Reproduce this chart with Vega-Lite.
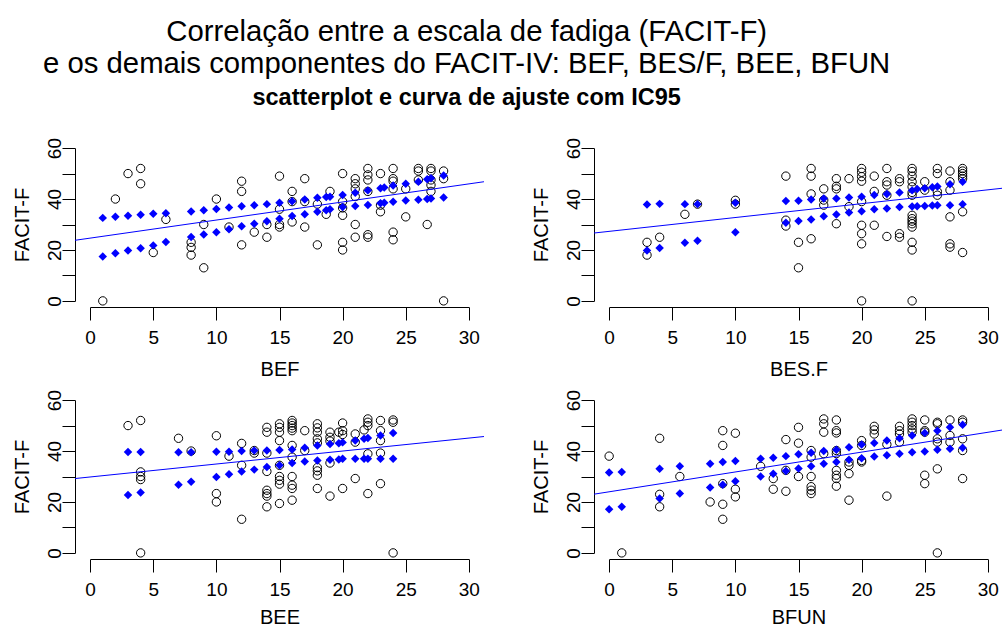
{
"$schema": "https://vega.github.io/schema/vega-lite/v6.json",
"background": "white",
"padding": {"left": 12, "top": 17, "right": 0, "bottom": 0},
"title": {"text": ["Correlação entre a escala de fadiga (FACIT-F)", "e os demais componentes do FACIT-IV: BEF, BES/F, BEE, BFUN"], "subtitle": "scatterplot e curva de ajuste com IC95", "font": "Liberation Sans", "fontSize": 29.3, "fontWeight": "normal", "lineHeight": 32, "color": "black", "subtitleFont": "Liberation Sans", "subtitleFontSize": 23.5, "subtitleFontWeight": "bold", "subtitleColor": "black", "subtitlePadding": 7, "anchor": "middle", "dx": -41, "offset": 28},
"datasets": {
"obs": [
{"p":"BEF","x":1,"y":0},{"p":"BEF","x":2,"y":40},{"p":"BEF","x":3,"y":50},{"p":"BEF","x":4,"y":52},{"p":"BEF","x":4,"y":46},{"p":"BEF","x":5,"y":19},{"p":"BEF","x":6,"y":32},{"p":"BEF","x":8,"y":23},{"p":"BEF","x":8,"y":21},{"p":"BEF","x":8,"y":18},{"p":"BEF","x":9,"y":13},{"p":"BEF","x":9,"y":30},{"p":"BEF","x":10,"y":40},{"p":"BEF","x":11,"y":29},{"p":"BEF","x":12,"y":47},{"p":"BEF","x":12,"y":43},{"p":"BEF","x":12,"y":22},{"p":"BEF","x":13,"y":27},{"p":"BEF","x":14,"y":25},{"p":"BEF","x":14,"y":30},{"p":"BEF","x":15,"y":49},{"p":"BEF","x":15,"y":36},{"p":"BEF","x":15,"y":30},{"p":"BEF","x":15,"y":29},{"p":"BEF","x":16,"y":43},{"p":"BEF","x":16,"y":39},{"p":"BEF","x":16,"y":31},{"p":"BEF","x":17,"y":48},{"p":"BEF","x":17,"y":39},{"p":"BEF","x":17,"y":29},{"p":"BEF","x":18,"y":38},{"p":"BEF","x":18,"y":22},{"p":"BEF","x":18.7,"y":34},{"p":"BEF","x":19,"y":43},{"p":"BEF","x":20,"y":50},{"p":"BEF","x":20,"y":39},{"p":"BEF","x":20,"y":36.5},{"p":"BEF","x":20,"y":33.6},{"p":"BEF","x":20,"y":23},{"p":"BEF","x":20,"y":20},{"p":"BEF","x":21,"y":48},{"p":"BEF","x":21,"y":46},{"p":"BEF","x":21,"y":44},{"p":"BEF","x":21,"y":41},{"p":"BEF","x":21,"y":30},{"p":"BEF","x":21,"y":25},{"p":"BEF","x":22,"y":52},{"p":"BEF","x":22,"y":49.5},{"p":"BEF","x":22,"y":47.5},{"p":"BEF","x":22,"y":43},{"p":"BEF","x":22,"y":26},{"p":"BEF","x":22,"y":25},{"p":"BEF","x":23,"y":50},{"p":"BEF","x":23,"y":37.6},{"p":"BEF","x":23,"y":35},{"p":"BEF","x":24,"y":52},{"p":"BEF","x":24,"y":48},{"p":"BEF","x":24,"y":47},{"p":"BEF","x":24,"y":44},{"p":"BEF","x":24,"y":27},{"p":"BEF","x":24,"y":24},{"p":"BEF","x":25,"y":44},{"p":"BEF","x":25,"y":33},{"p":"BEF","x":26,"y":52},{"p":"BEF","x":26,"y":51},{"p":"BEF","x":26,"y":47.5},{"p":"BEF","x":26.7,"y":30},{"p":"BEF","x":27,"y":52},{"p":"BEF","x":27,"y":51},{"p":"BEF","x":27,"y":47.5},{"p":"BEF","x":27,"y":45.5},{"p":"BEF","x":27,"y":43},{"p":"BEF","x":28,"y":51},{"p":"BEF","x":28,"y":48},{"p":"BEF","x":28,"y":0},
{"p":"BESF","x":3,"y":23},{"p":"BESF","x":3,"y":18},{"p":"BESF","x":4,"y":25},{"p":"BESF","x":6,"y":34},{"p":"BESF","x":7,"y":38},{"p":"BESF","x":10,"y":39.5},{"p":"BESF","x":10,"y":38},{"p":"BESF","x":14,"y":49},{"p":"BESF","x":14,"y":31.7},{"p":"BESF","x":14,"y":29.4},{"p":"BESF","x":15,"y":23},{"p":"BESF","x":15,"y":13},{"p":"BESF","x":16,"y":52},{"p":"BESF","x":16,"y":49},{"p":"BESF","x":16,"y":42},{"p":"BESF","x":16,"y":24.4},{"p":"BESF","x":17,"y":44},{"p":"BESF","x":17,"y":39.6},{"p":"BESF","x":17,"y":37.6},{"p":"BESF","x":18,"y":48},{"p":"BESF","x":18,"y":45},{"p":"BESF","x":18,"y":44},{"p":"BESF","x":18,"y":30.3},{"p":"BESF","x":19,"y":48},{"p":"BESF","x":19,"y":37},{"p":"BESF","x":20,"y":52},{"p":"BESF","x":20,"y":50.5},{"p":"BESF","x":20,"y":48.8},{"p":"BESF","x":20,"y":47},{"p":"BESF","x":20,"y":39},{"p":"BESF","x":20,"y":29.7},{"p":"BESF","x":20,"y":26.4},{"p":"BESF","x":20,"y":22.4},{"p":"BESF","x":20,"y":0},{"p":"BESF","x":21,"y":49},{"p":"BESF","x":21,"y":43},{"p":"BESF","x":21,"y":29.7},{"p":"BESF","x":22,"y":52},{"p":"BESF","x":22,"y":46.8},{"p":"BESF","x":22,"y":45.5},{"p":"BESF","x":22,"y":41.5},{"p":"BESF","x":22,"y":25.3},{"p":"BESF","x":23,"y":48},{"p":"BESF","x":23,"y":46.8},{"p":"BESF","x":23,"y":26.4},{"p":"BESF","x":23,"y":25},{"p":"BESF","x":24,"y":52},{"p":"BESF","x":24,"y":50.8},{"p":"BESF","x":24,"y":49},{"p":"BESF","x":24,"y":46.8},{"p":"BESF","x":24,"y":44.8},{"p":"BESF","x":24,"y":42.6},{"p":"BESF","x":24,"y":41.5},{"p":"BESF","x":24,"y":33.6},{"p":"BESF","x":24,"y":32.3},{"p":"BESF","x":24,"y":31.3},{"p":"BESF","x":24,"y":30.3},{"p":"BESF","x":24,"y":29},{"p":"BESF","x":24,"y":23},{"p":"BESF","x":24,"y":20},{"p":"BESF","x":24,"y":0},{"p":"BESF","x":25,"y":46.8},{"p":"BESF","x":25,"y":43.5},{"p":"BESF","x":26,"y":52},{"p":"BESF","x":26,"y":50},{"p":"BESF","x":26,"y":42.9},{"p":"BESF","x":26,"y":41.5},{"p":"BESF","x":27,"y":51},{"p":"BESF","x":27,"y":46.8},{"p":"BESF","x":27,"y":43.5},{"p":"BESF","x":27,"y":33},{"p":"BESF","x":27,"y":22.4},{"p":"BESF","x":27,"y":21.1},{"p":"BESF","x":28,"y":52},{"p":"BESF","x":28,"y":51},{"p":"BESF","x":28,"y":50},{"p":"BESF","x":28,"y":49},{"p":"BESF","x":28,"y":48},{"p":"BESF","x":28,"y":35},{"p":"BESF","x":28,"y":19},
{"p":"BEE","x":3,"y":50},{"p":"BEE","x":4,"y":52},{"p":"BEE","x":4,"y":31.8},{"p":"BEE","x":4,"y":30},{"p":"BEE","x":4,"y":28.8},{"p":"BEE","x":4,"y":0},{"p":"BEE","x":7,"y":45},{"p":"BEE","x":8,"y":40},{"p":"BEE","x":10,"y":46},{"p":"BEE","x":10,"y":23.3},{"p":"BEE","x":10,"y":20},{"p":"BEE","x":11,"y":38},{"p":"BEE","x":12,"y":43},{"p":"BEE","x":12,"y":34.4},{"p":"BEE","x":12,"y":13.2},{"p":"BEE","x":13,"y":40.2},{"p":"BEE","x":13,"y":39.2},{"p":"BEE","x":14,"y":49.3},{"p":"BEE","x":14,"y":47.4},{"p":"BEE","x":14,"y":39.2},{"p":"BEE","x":14,"y":32},{"p":"BEE","x":14,"y":24.6},{"p":"BEE","x":14,"y":23.3},{"p":"BEE","x":14,"y":22.3},{"p":"BEE","x":14,"y":18.1},{"p":"BEE","x":15,"y":50.7},{"p":"BEE","x":15,"y":49.3},{"p":"BEE","x":15,"y":47.4},{"p":"BEE","x":15,"y":44.1},{"p":"BEE","x":15,"y":34.4},{"p":"BEE","x":15,"y":30},{"p":"BEE","x":15,"y":28.5},{"p":"BEE","x":15,"y":27},{"p":"BEE","x":15,"y":19.4},{"p":"BEE","x":16,"y":52},{"p":"BEE","x":16,"y":51},{"p":"BEE","x":16,"y":50},{"p":"BEE","x":16,"y":49},{"p":"BEE","x":16,"y":48},{"p":"BEE","x":16,"y":42.2},{"p":"BEE","x":16,"y":37.6},{"p":"BEE","x":16,"y":30},{"p":"BEE","x":16,"y":26.6},{"p":"BEE","x":16,"y":25.3},{"p":"BEE","x":16,"y":20.7},{"p":"BEE","x":17,"y":48},{"p":"BEE","x":17,"y":40.2},{"p":"BEE","x":18,"y":50.7},{"p":"BEE","x":18,"y":49.1},{"p":"BEE","x":18,"y":47.4},{"p":"BEE","x":18,"y":44.8},{"p":"BEE","x":18,"y":43.2},{"p":"BEE","x":18,"y":33.5},{"p":"BEE","x":18,"y":32.2},{"p":"BEE","x":18,"y":30.5},{"p":"BEE","x":18,"y":25.3},{"p":"BEE","x":19,"y":47.4},{"p":"BEE","x":19,"y":45.4},{"p":"BEE","x":19,"y":43.9},{"p":"BEE","x":19,"y":35.3},{"p":"BEE","x":19,"y":22.3},{"p":"BEE","x":19.7,"y":47.4},{"p":"BEE","x":20,"y":51},{"p":"BEE","x":20,"y":48},{"p":"BEE","x":20,"y":46.5},{"p":"BEE","x":20,"y":25.3},{"p":"BEE","x":21,"y":46.7},{"p":"BEE","x":21,"y":43.5},{"p":"BEE","x":21,"y":29.2},{"p":"BEE","x":21.7,"y":48.3},{"p":"BEE","x":22,"y":52.6},{"p":"BEE","x":22,"y":51.3},{"p":"BEE","x":22,"y":50},{"p":"BEE","x":22,"y":38.9},{"p":"BEE","x":22,"y":23.3},{"p":"BEE","x":23,"y":52},{"p":"BEE","x":23,"y":48},{"p":"BEE","x":23,"y":44.1},{"p":"BEE","x":23,"y":39.2},{"p":"BEE","x":23,"y":27.2},{"p":"BEE","x":24,"y":52.2},{"p":"BEE","x":24,"y":51.3},{"p":"BEE","x":24,"y":0},
{"p":"BFUN","x":0,"y":38},{"p":"BFUN","x":1,"y":0},{"p":"BFUN","x":4,"y":45},{"p":"BFUN","x":4,"y":23},{"p":"BFUN","x":4,"y":18.1},{"p":"BFUN","x":5.6,"y":30},{"p":"BFUN","x":8,"y":20},{"p":"BFUN","x":9,"y":48},{"p":"BFUN","x":9,"y":42.2},{"p":"BFUN","x":9,"y":27.2},{"p":"BFUN","x":9,"y":19.1},{"p":"BFUN","x":9,"y":13.2},{"p":"BFUN","x":10,"y":47},{"p":"BFUN","x":10,"y":25},{"p":"BFUN","x":10,"y":22},{"p":"BFUN","x":12,"y":34},{"p":"BFUN","x":13,"y":29.2},{"p":"BFUN","x":13,"y":25},{"p":"BFUN","x":14,"y":44.5},{"p":"BFUN","x":14,"y":32.4},{"p":"BFUN","x":14,"y":24.2},{"p":"BFUN","x":15,"y":49.3},{"p":"BFUN","x":15,"y":43.1},{"p":"BFUN","x":15,"y":30},{"p":"BFUN","x":16,"y":40.2},{"p":"BFUN","x":16,"y":37.6},{"p":"BFUN","x":16,"y":30},{"p":"BFUN","x":16,"y":26},{"p":"BFUN","x":16,"y":24.6},{"p":"BFUN","x":16,"y":23.3},{"p":"BFUN","x":17,"y":52.6},{"p":"BFUN","x":17,"y":50.7},{"p":"BFUN","x":17,"y":47.4},{"p":"BFUN","x":17,"y":39},{"p":"BFUN","x":18,"y":52.2},{"p":"BFUN","x":18,"y":48},{"p":"BFUN","x":18,"y":47.1},{"p":"BFUN","x":18,"y":40.2},{"p":"BFUN","x":18,"y":39},{"p":"BFUN","x":18,"y":32.4},{"p":"BFUN","x":18,"y":30.5},{"p":"BFUN","x":18,"y":29.2},{"p":"BFUN","x":18,"y":26.2},{"p":"BFUN","x":19,"y":35.7},{"p":"BFUN","x":19,"y":34.4},{"p":"BFUN","x":19,"y":31.1},{"p":"BFUN","x":19,"y":20.7},{"p":"BFUN","x":20,"y":44.1},{"p":"BFUN","x":20,"y":42.2},{"p":"BFUN","x":20,"y":36.3},{"p":"BFUN","x":20,"y":35.7},{"p":"BFUN","x":21,"y":49.7},{"p":"BFUN","x":21,"y":48.3},{"p":"BFUN","x":21,"y":46.7},{"p":"BFUN","x":22,"y":42.6},{"p":"BFUN","x":22,"y":22.3},{"p":"BFUN","x":23,"y":49.7},{"p":"BFUN","x":23,"y":48},{"p":"BFUN","x":23,"y":46.7},{"p":"BFUN","x":23,"y":43.5},{"p":"BFUN","x":24,"y":52.6},{"p":"BFUN","x":24,"y":51.3},{"p":"BFUN","x":24,"y":50},{"p":"BFUN","x":24,"y":48.7},{"p":"BFUN","x":24,"y":47.4},{"p":"BFUN","x":25,"y":52.2},{"p":"BFUN","x":25,"y":48},{"p":"BFUN","x":25,"y":47.4},{"p":"BFUN","x":25,"y":30.5},{"p":"BFUN","x":25,"y":27.2},{"p":"BFUN","x":26,"y":51.3},{"p":"BFUN","x":26,"y":50.7},{"p":"BFUN","x":26,"y":44.8},{"p":"BFUN","x":26,"y":43.5},{"p":"BFUN","x":26,"y":33},{"p":"BFUN","x":26,"y":0},{"p":"BFUN","x":27,"y":52.2},{"p":"BFUN","x":27,"y":46.1},{"p":"BFUN","x":27,"y":43.5},{"p":"BFUN","x":28,"y":52.2},{"p":"BFUN","x":28,"y":51.3},{"p":"BFUN","x":28,"y":44.8},{"p":"BFUN","x":28,"y":40.2},{"p":"BFUN","x":28,"y":29.2}
],
"ic": [
{"p":"BEF","x":1,"y":32.6},{"p":"BEF","x":1,"y":17.4},{"p":"BEF","x":2,"y":33},{"p":"BEF","x":2,"y":18.7},{"p":"BEF","x":3,"y":33.4},{"p":"BEF","x":3,"y":19.8},{"p":"BEF","x":4,"y":33.8},{"p":"BEF","x":4,"y":20.7},{"p":"BEF","x":5,"y":34.2},{"p":"BEF","x":5,"y":21.8},{"p":"BEF","x":6,"y":34.4},{"p":"BEF","x":6,"y":23.1},{"p":"BEF","x":8,"y":35.1},{"p":"BEF","x":8,"y":25.1},{"p":"BEF","x":9,"y":35.6},{"p":"BEF","x":9,"y":26.1},{"p":"BEF","x":10,"y":36.1},{"p":"BEF","x":10,"y":27},{"p":"BEF","x":11,"y":36.7},{"p":"BEF","x":11,"y":28.1},{"p":"BEF","x":12,"y":37.2},{"p":"BEF","x":12,"y":29.3},{"p":"BEF","x":13,"y":37.6},{"p":"BEF","x":13,"y":30.3},{"p":"BEF","x":14,"y":38},{"p":"BEF","x":14,"y":31.3},{"p":"BEF","x":15,"y":38.5},{"p":"BEF","x":15,"y":32.3},{"p":"BEF","x":16,"y":39.1},{"p":"BEF","x":16,"y":33.3},{"p":"BEF","x":17,"y":39.8},{"p":"BEF","x":17,"y":34},{"p":"BEF","x":18,"y":40.5},{"p":"BEF","x":18,"y":35},{"p":"BEF","x":18.7,"y":40.8},{"p":"BEF","x":18.7,"y":35.6},{"p":"BEF","x":19,"y":40.9},{"p":"BEF","x":19,"y":36},{"p":"BEF","x":20,"y":41.6},{"p":"BEF","x":20,"y":36.9},{"p":"BEF","x":21,"y":42.5},{"p":"BEF","x":21,"y":37.3},{"p":"BEF","x":22,"y":43.4},{"p":"BEF","x":22,"y":37.7},{"p":"BEF","x":23,"y":44.2},{"p":"BEF","x":23,"y":38.3},{"p":"BEF","x":23.3,"y":44.5},{"p":"BEF","x":23.3,"y":38.5},{"p":"BEF","x":24,"y":45.3},{"p":"BEF","x":24,"y":38.9},{"p":"BEF","x":25,"y":46},{"p":"BEF","x":25,"y":39.4},{"p":"BEF","x":26,"y":46.8},{"p":"BEF","x":26,"y":39.7},{"p":"BEF","x":26.7,"y":47.8},{"p":"BEF","x":26.7,"y":40},{"p":"BEF","x":27,"y":48.2},{"p":"BEF","x":27,"y":40.2},{"p":"BEF","x":28,"y":49.2},{"p":"BEF","x":28,"y":40.6},
{"p":"BESF","x":3,"y":37.9},{"p":"BESF","x":3,"y":19.8},{"p":"BESF","x":4,"y":38.1},{"p":"BESF","x":4,"y":20.8},{"p":"BESF","x":6,"y":38},{"p":"BESF","x":6,"y":22.8},{"p":"BESF","x":7,"y":38},{"p":"BESF","x":7,"y":23.6},{"p":"BESF","x":10,"y":38.5},{"p":"BESF","x":10,"y":27},{"p":"BESF","x":14,"y":39.2},{"p":"BESF","x":14,"y":30.7},{"p":"BESF","x":15,"y":39.3},{"p":"BESF","x":15,"y":31.4},{"p":"BESF","x":16,"y":39.8},{"p":"BESF","x":16,"y":32},{"p":"BESF","x":17,"y":40.2},{"p":"BESF","x":17,"y":33.2},{"p":"BESF","x":18,"y":40.2},{"p":"BESF","x":18,"y":33.9},{"p":"BESF","x":19,"y":40.6},{"p":"BESF","x":19,"y":34.7},{"p":"BESF","x":20,"y":40.9},{"p":"BESF","x":20,"y":35.2},{"p":"BESF","x":21,"y":41.6},{"p":"BESF","x":21,"y":36},{"p":"BESF","x":22,"y":42},{"p":"BESF","x":22,"y":36.3},{"p":"BESF","x":23,"y":42.6},{"p":"BESF","x":23,"y":36.9},{"p":"BESF","x":24,"y":43.4},{"p":"BESF","x":24,"y":37.1},{"p":"BESF","x":24.4,"y":43.9},{"p":"BESF","x":24.4,"y":37.2},{"p":"BESF","x":25,"y":44.2},{"p":"BESF","x":25,"y":37.3},{"p":"BESF","x":25.6,"y":44.6},{"p":"BESF","x":25.6,"y":37.5},{"p":"BESF","x":26,"y":44.9},{"p":"BESF","x":26,"y":37.6},{"p":"BESF","x":27,"y":45.8},{"p":"BESF","x":27,"y":37.6},{"p":"BESF","x":28,"y":46.8},{"p":"BESF","x":28,"y":38},
{"p":"BEE","x":3,"y":39.6},{"p":"BEE","x":3,"y":22.7},{"p":"BEE","x":4,"y":39.6},{"p":"BEE","x":4,"y":23.7},{"p":"BEE","x":7,"y":39.5},{"p":"BEE","x":7,"y":26.8},{"p":"BEE","x":8,"y":39.5},{"p":"BEE","x":8,"y":27.9},{"p":"BEE","x":10,"y":39.7},{"p":"BEE","x":10,"y":29.8},{"p":"BEE","x":11,"y":39.7},{"p":"BEE","x":11,"y":30.9},{"p":"BEE","x":12,"y":40},{"p":"BEE","x":12,"y":32},{"p":"BEE","x":13,"y":40.2},{"p":"BEE","x":13,"y":32.7},{"p":"BEE","x":14,"y":40.2},{"p":"BEE","x":14,"y":33.7},{"p":"BEE","x":15,"y":40.4},{"p":"BEE","x":15,"y":34.4},{"p":"BEE","x":16,"y":40.6},{"p":"BEE","x":16,"y":35.3},{"p":"BEE","x":17,"y":41.3},{"p":"BEE","x":17,"y":35.9},{"p":"BEE","x":18,"y":42.2},{"p":"BEE","x":18,"y":36.3},{"p":"BEE","x":19,"y":42.8},{"p":"BEE","x":19,"y":36.6},{"p":"BEE","x":19.7,"y":43.1},{"p":"BEE","x":19.7,"y":36.7},{"p":"BEE","x":20,"y":43.4},{"p":"BEE","x":20,"y":37},{"p":"BEE","x":21,"y":44.1},{"p":"BEE","x":21,"y":37},{"p":"BEE","x":21.7,"y":44.8},{"p":"BEE","x":21.7,"y":37},{"p":"BEE","x":22,"y":45.1},{"p":"BEE","x":22,"y":37},{"p":"BEE","x":23,"y":46.1},{"p":"BEE","x":23,"y":37},{"p":"BEE","x":24,"y":47.1},{"p":"BEE","x":24,"y":37},
{"p":"BFUN","x":0,"y":31.6},{"p":"BFUN","x":0,"y":17.1},{"p":"BFUN","x":1,"y":31.8},{"p":"BFUN","x":1,"y":18.1},{"p":"BFUN","x":4,"y":33},{"p":"BFUN","x":4,"y":21.4},{"p":"BFUN","x":5.6,"y":34},{"p":"BFUN","x":5.6,"y":23.3},{"p":"BFUN","x":8,"y":35},{"p":"BFUN","x":8,"y":25.7},{"p":"BFUN","x":9,"y":35.7},{"p":"BFUN","x":9,"y":26.8},{"p":"BFUN","x":10,"y":36.1},{"p":"BFUN","x":10,"y":28.1},{"p":"BFUN","x":12,"y":37},{"p":"BFUN","x":12,"y":30},{"p":"BFUN","x":13,"y":37.4},{"p":"BFUN","x":13,"y":31.1},{"p":"BFUN","x":14,"y":38},{"p":"BFUN","x":14,"y":32.2},{"p":"BFUN","x":15,"y":38.7},{"p":"BFUN","x":15,"y":33.1},{"p":"BFUN","x":16,"y":39.3},{"p":"BFUN","x":16,"y":34},{"p":"BFUN","x":17,"y":40},{"p":"BFUN","x":17,"y":35},{"p":"BFUN","x":18,"y":40.5},{"p":"BFUN","x":18,"y":35.7},{"p":"BFUN","x":19,"y":41.5},{"p":"BFUN","x":19,"y":36.6},{"p":"BFUN","x":20,"y":42.6},{"p":"BFUN","x":20,"y":37.2},{"p":"BFUN","x":21,"y":43.2},{"p":"BFUN","x":21,"y":37.9},{"p":"BFUN","x":22,"y":44.1},{"p":"BFUN","x":22,"y":38.3},{"p":"BFUN","x":23,"y":45},{"p":"BFUN","x":23,"y":38.9},{"p":"BFUN","x":24,"y":46.1},{"p":"BFUN","x":24,"y":39.5},{"p":"BFUN","x":25,"y":47.1},{"p":"BFUN","x":25,"y":39.8},{"p":"BFUN","x":26,"y":48},{"p":"BFUN","x":26,"y":40.5},{"p":"BFUN","x":27,"y":49.3},{"p":"BFUN","x":27,"y":40.9},{"p":"BFUN","x":28,"y":50.3},{"p":"BFUN","x":28,"y":41.3}
],
"fit": [
{"p":"BEF","x":-1.2,"y":23.8},{"p":"BEF","x":31.2,"y":46.8},
{"p":"BESF","x":-1.2,"y":26.65},{"p":"BESF","x":31.2,"y":44.27},
{"p":"BEE","x":-1.2,"y":29.2},{"p":"BEE","x":31.2,"y":45.7},
{"p":"BFUN","x":-1.2,"y":23.06},{"p":"BFUN","x":31.2,"y":48.3}
]
},
"columns": 2,
"spacing": {"row": 87, "column": 110},
"bounds": "flush",
"concat": [
{"width": 409, "height": 165,
 "encoding": {
  "x": {"field": "x", "type": "quantitative", "scale": {"domain": [0, 30], "range": [15.15, 393.85], "nice": false, "zero": false}, "axis": {"title": "BEF", "titleY": 68, "values": [0, 5, 10, 15, 20, 25, 30]}},
  "y": {"field": "y", "type": "quantitative", "scale": {"domain": [0, 60], "range": [158.89, 6.11], "nice": false, "zero": false}, "axis": {"title": "FACIT-F", "values": [0, 10, 20, 30, 40, 50, 60]}}
 },
 "layer": [
  {"data": {"name": "obs"}, "transform": [{"filter": "datum.p === 'BEF'"}], "mark": {"type": "point", "shape": "circle", "size": 70, "strokeWidth": 1, "color": "black", "filled": false, "opacity": 1}},
  {"data": {"name": "fit"}, "transform": [{"filter": "datum.p === 'BEF'"}], "mark": {"type": "line", "color": "#0000ff", "strokeWidth": 1, "clip": true}},
  {"data": {"name": "ic"}, "transform": [{"filter": "datum.p === 'BEF'"}], "mark": {"type": "point", "shape": "diamond", "size": 72, "color": "#0000ff", "filled": true, "opacity": 1}}
 ]},
{"width": 409, "height": 165,
 "encoding": {
  "x": {"field": "x", "type": "quantitative", "scale": {"domain": [0, 30], "range": [15.15, 393.85], "nice": false, "zero": false}, "axis": {"title": "BES.F", "titleY": 68, "values": [0, 5, 10, 15, 20, 25, 30]}},
  "y": {"field": "y", "type": "quantitative", "scale": {"domain": [0, 60], "range": [158.89, 6.11], "nice": false, "zero": false}, "axis": {"title": "FACIT-F", "values": [0, 10, 20, 30, 40, 50, 60]}}
 },
 "layer": [
  {"data": {"name": "obs"}, "transform": [{"filter": "datum.p === 'BESF'"}], "mark": {"type": "point", "shape": "circle", "size": 70, "strokeWidth": 1, "color": "black", "filled": false, "opacity": 1}},
  {"data": {"name": "fit"}, "transform": [{"filter": "datum.p === 'BESF'"}], "mark": {"type": "line", "color": "#0000ff", "strokeWidth": 1, "clip": true}},
  {"data": {"name": "ic"}, "transform": [{"filter": "datum.p === 'BESF'"}], "mark": {"type": "point", "shape": "diamond", "size": 72, "color": "#0000ff", "filled": true, "opacity": 1}}
 ]},
{"width": 409, "height": 165,
 "encoding": {
  "x": {"field": "x", "type": "quantitative", "scale": {"domain": [0, 30], "range": [15.15, 393.85], "nice": false, "zero": false}, "axis": {"title": "BEE", "titleY": 64, "values": [0, 5, 10, 15, 20, 25, 30]}},
  "y": {"field": "y", "type": "quantitative", "scale": {"domain": [0, 60], "range": [158.89, 6.11], "nice": false, "zero": false}, "axis": {"title": "FACIT-F", "values": [0, 10, 20, 30, 40, 50, 60]}}
 },
 "layer": [
  {"data": {"name": "obs"}, "transform": [{"filter": "datum.p === 'BEE'"}], "mark": {"type": "point", "shape": "circle", "size": 70, "strokeWidth": 1, "color": "black", "filled": false, "opacity": 1}},
  {"data": {"name": "fit"}, "transform": [{"filter": "datum.p === 'BEE'"}], "mark": {"type": "line", "color": "#0000ff", "strokeWidth": 1, "clip": true}},
  {"data": {"name": "ic"}, "transform": [{"filter": "datum.p === 'BEE'"}], "mark": {"type": "point", "shape": "diamond", "size": 72, "color": "#0000ff", "filled": true, "opacity": 1}}
 ]},
{"width": 409, "height": 165,
 "encoding": {
  "x": {"field": "x", "type": "quantitative", "scale": {"domain": [0, 30], "range": [15.15, 393.85], "nice": false, "zero": false}, "axis": {"title": "BFUN", "titleY": 64, "values": [0, 5, 10, 15, 20, 25, 30]}},
  "y": {"field": "y", "type": "quantitative", "scale": {"domain": [0, 60], "range": [158.89, 6.11], "nice": false, "zero": false}, "axis": {"title": "FACIT-F", "values": [0, 10, 20, 30, 40, 50, 60]}}
 },
 "layer": [
  {"data": {"name": "obs"}, "transform": [{"filter": "datum.p === 'BFUN'"}], "mark": {"type": "point", "shape": "circle", "size": 70, "strokeWidth": 1, "color": "black", "filled": false, "opacity": 1}},
  {"data": {"name": "fit"}, "transform": [{"filter": "datum.p === 'BFUN'"}], "mark": {"type": "line", "color": "#0000ff", "strokeWidth": 1, "clip": true}},
  {"data": {"name": "ic"}, "transform": [{"filter": "datum.p === 'BFUN'"}], "mark": {"type": "point", "shape": "diamond", "size": 72, "color": "#0000ff", "filled": true, "opacity": 1}}
 ]}
],
"config": {
 "view": {"stroke": null},
 "font": "Liberation Sans",
 "axis": {"grid": false, "domainColor": "black", "tickColor": "black", "labelColor": "black", "titleColor": "black", "labelFont": "Liberation Sans", "titleFont": "Liberation Sans", "titleFontWeight": "normal", "labelFontSize": 19, "titleFontSize": 20, "tickSize": 13, "labelFlush": false, "labelOverlap": false},
 "axisX": {"labelPadding": 8, "titleBaseline": "alphabetic"},
 "axisY": {"labelExpr": "datum.value % 20 === 0 ? datum.label : ''", "labelAngle": 270, "labelAlign": "center", "labelBaseline": "alphabetic", "labelPadding": 2, "titleAngle": 270, "titleAlign": "center", "titleBaseline": "alphabetic", "titleX": -46.7, "titleY": 82.5}
}
}
